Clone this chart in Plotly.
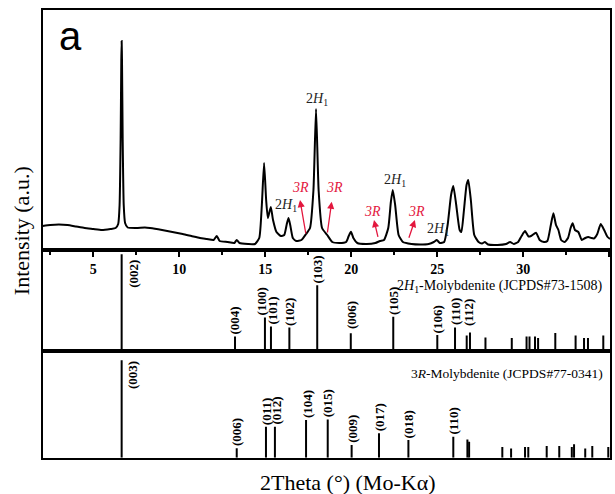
import plotly.graph_objects as go

# ---------------- data ----------------
# measured XRD pattern (2theta, intensity in a.u.)
two_theta = [2.06, 2.5, 3.0, 3.5, 4.0, 4.5, 5.0, 5.5, 6.0, 6.3, 6.45, 6.53, 6.59, 6.63, 6.65,
             6.67, 6.71, 6.77, 6.85, 7.0, 7.5, 8.0, 8.3, 9.0, 9.6, 10.2, 10.7, 11.2, 11.6, 12.0,
             12.18, 12.35, 12.8, 13.2, 13.34, 13.5, 14.0, 14.4, 14.65, 14.8, 14.93, 15.05, 15.15,
             15.32, 15.45, 15.65, 15.9, 16.1, 16.25, 16.35, 16.45, 16.6, 16.8, 17.1, 17.37, 17.6,
             17.8, 17.95, 18.1, 18.3, 18.6, 18.9, 19.3, 19.7, 19.85, 19.98, 20.12, 20.35, 20.9,
             21.4, 21.67, 21.9, 22.15, 22.3, 22.41, 22.55, 22.75, 23.0, 23.5, 24.0, 24.5, 24.8,
             24.97, 25.15, 25.4, 25.6, 25.8, 25.93, 26.1, 26.3, 26.4, 26.55, 26.7, 26.8, 26.95,
             27.15, 27.4, 27.6, 27.77, 27.95, 28.5, 29.0, 29.23, 29.45, 29.7, 29.9, 30.1, 30.3,
             30.45, 30.74, 30.95, 31.2, 31.4, 31.6, 31.75, 31.9, 32.04, 32.2, 32.4, 32.6, 32.75,
             32.87, 33.0, 33.2, 33.4, 33.6, 33.78, 33.95, 34.1, 34.3, 34.5, 34.7, 34.9, 35.04]
intensity = [24, 25, 25.5, 25, 23.5, 22, 21, 20, 21, 22, 26, 45, 110, 190, 209,
             190, 110, 45, 27, 22.5, 22, 22.5, 22, 20, 18, 16, 14, 12, 11, 10,
             14, 9, 8, 7, 10, 7, 6, 6, 12, 45, 87, 50, 32,
             43, 30, 18, 14, 15, 26, 32, 25, 12, 9, 10, 16, 22,
             60, 141, 60, 22, 15, 8, 7, 8, 14, 18.3, 12, 7, 6,
             7, 9, 10, 22, 48, 60, 45, 15, 8, 6, 5.5, 6, 8,
             10, 7, 8, 25, 55, 64, 45, 20, 18, 40, 65, 70, 50,
             15, 8, 6.5, 8, 5.5, 5, 6, 8, 6, 8, 14, 19, 13.5,
             14, 17.3, 10, 8, 9, 25, 36.7, 25, 20, 10, 8, 12, 22,
             26.7, 20, 18, 10, 12, 13, 12, 11.5, 16, 26, 20, 13, 11]

# 2H1-Molybdenite reference (JCPDS#73-1508), relative intensity
h2_pos = [6.65, 13.24, 14.98, 15.33, 16.40, 18.02, 19.97, 22.44, 25.00, 26.03, 26.71, 26.90,
          27.80, 29.33, 30.19, 30.36, 30.68, 30.86, 31.86, 33.04, 33.53, 33.76, 34.65]
h2_int = [0.957, 0.14, 0.33, 0.24, 0.23, 0.65, 0.173, 0.338, 0.155, 0.23, 0.15, 0.18,
          0.13, 0.125, 0.14, 0.14, 0.14, 0.125, 0.175, 0.15, 0.125, 0.125, 0.15]
h2_hkl = ["(002)", "(004)", "(100)", "(101)", "(102)", "(103)", "(006)", "(105)", "(106)",
          "(110)", "", "(112)", "", "", "", "", "", "", "", "", "", "", ""]

# 3R-Molybdenite reference (JCPDS#77-0341), relative intensity
r3_pos = [6.65, 13.34, 15.04, 15.56, 17.37, 18.63, 20.02, 21.61, 23.32, 25.93, 26.75, 26.85,
          28.78, 29.29, 30.10, 30.29, 31.36, 32.09, 32.82, 32.95, 33.60, 34.01, 34.94]
r3_int = [0.91, 0.088, 0.29, 0.29, 0.352, 0.357, 0.118, 0.228, 0.165, 0.196, 0.17, 0.15,
          0.10, 0.087, 0.10, 0.10, 0.11, 0.11, 0.10, 0.125, 0.087, 0.11, 0.10]
r3_hkl = ["(003)", "(006)", "(011)", "(012)", "(104)", "(015)", "(009)", "(017)", "(018)",
          "(110)", "", "", "", "", "", "", "", "", "", "", "", "", ""]

# peak annotations in the measured pattern
h2_mark_x = [17.99, 16.2, 22.54, 25.04]
h2_mark_y = [150, 44, 69, 20]
r3_text_x = [17.05, 19.05, 21.25, 23.8]
r3_text_y = [62, 62, 38.3, 38.3]
r3_tail_x = [17.37, 18.6, 21.57, 23.32]
r3_tail_y = [15, 16, 11.7, 10.7]
r3_head_x = [17.02, 18.86, 21.32, 23.7]
r3_head_y = [50, 48.3, 30, 30]

# ---------------- styling ----------------
W, H = 615, 494
SERIF = "Liberation Serif"
RED = "#e3173e"
XL, XR = 42.7 / W, 610 / W
def py(p):  # pixel row -> paper y
    return (H - p) / H

fig = go.Figure()

fig.add_trace(go.Scatter(x=two_theta, y=intensity, mode="lines",
                         line=dict(color="black", width=2, shape="spline", smoothing=0.5),
                         xaxis="x", yaxis="y", hoverinfo="skip"))

def sticks(pos, hts):
    xs, ys = [], []
    for p, h in zip(pos, hts):
        xs += [p, p, None]
        ys += [0, h, None]
    return xs, ys

sx, sy = sticks(h2_pos, h2_int)
fig.add_trace(go.Scatter(x=sx, y=sy, mode="lines", line=dict(color="black", width=2),
                         xaxis="x2", yaxis="y2", hoverinfo="skip"))
sx, sy = sticks(r3_pos, r3_int)
fig.add_trace(go.Scatter(x=sx, y=sy, mode="lines", line=dict(color="black", width=2),
                         xaxis="x3", yaxis="y3", hoverinfo="skip"))

ann = []
lab_font = dict(family=SERIF, size=13, color="black", weight="bold")
shifts = {("x2", "(100)"): (-3, 0), ("x2", "(101)"): (2, 0), ("x2", "(112)"): (-2, 5),
          ("x2", "(006)"): (0, 2),
          ("x3", "(012)"): (2, 0), ("x3", "(104)"): (1, 0)}
for axn, pos, hts, hkl in (("x2", h2_pos, h2_int, h2_hkl), ("x3", r3_pos, r3_int, r3_hkl)):
    yref = "y" + axn[1:]
    for p, h, t in zip(pos, hts, hkl):
        if not t:
            continue
        if h > 0.8:
            ann.append(dict(x=p, y=0.91, xref=axn, yref=yref, text=t, textangle=-90,
                            showarrow=False, xanchor="center", yanchor="top", xshift=11,
                            font=lab_font, borderpad=0))
        else:
            dx, dy = shifts.get((axn, t), (0, 0))
            ann.append(dict(x=p, y=h, xref=axn, yref=yref, text=t, textangle=-90,
                            showarrow=False, xanchor="center", yanchor="bottom",
                            xshift=dx, yshift=1 + dy, font=lab_font, borderpad=0))

ann.append(dict(x=605 / W, y=py(286), xref="paper", yref="paper", xanchor="right",
                yanchor="middle", showarrow=False,
                text="2<i>H</i><sub>1</sub>-Molybdenite (JCPDS#73-1508)",
                font=dict(family=SERIF, size=14, color="black")))
ann.append(dict(x=605 / W, y=py(373), xref="paper", yref="paper", xanchor="right",
                yanchor="middle", showarrow=False,
                text="3<i>R</i>-Molybdenite (JCPDS#77-0341)",
                font=dict(family=SERIF, size=13.5, color="black")))

for x, y in zip(h2_mark_x, h2_mark_y):
    ann.append(dict(x=x, y=y, xref="x", yref="y", showarrow=False,
                    xanchor="center", yanchor="middle",
                    text="2<i>H</i><sub>1</sub>",
                    font=dict(family=SERIF, size=14, color="#222222")))
for i in range(len(r3_text_x)):
    ann.append(dict(x=r3_head_x[i], y=r3_head_y[i], ax=r3_tail_x[i], ay=r3_tail_y[i],
                    xref="x", yref="y", axref="x", ayref="y", text="", showarrow=True,
                    arrowhead=2, arrowsize=1.1, arrowwidth=1.3, arrowcolor=RED, standoff=0))
    ann.append(dict(x=r3_text_x[i], y=r3_text_y[i], xref="x", yref="y", showarrow=False,
                    xanchor="center", yanchor="middle",
                    text="<i>3R</i>", font=dict(family=SERIF, size=14, color=RED)))

ann.append(dict(x=70 / W, y=py(36), xref="paper", yref="paper", showarrow=False,
                xanchor="center", yanchor="middle",
                text="a", font=dict(family="Liberation Sans", size=40, color="black")))
ann.append(dict(x=347 / W, y=py(482), xref="paper", yref="paper", showarrow=False,
                xanchor="center", yanchor="middle",
                text="2Theta (°) (Mo-Kα)", font=dict(family=SERIF, size=22, color="black")))
ann.append(dict(x=21.7 / W, y=py(230.5), xref="paper", yref="paper", showarrow=False,
                xanchor="center", yanchor="middle",
                textangle=-90, text="Intensity (a.u.)",
                font=dict(family=SERIF, size=22, color="black")))

frame = dict(showline=True, linecolor="black", linewidth=2, mirror=True,
             showgrid=False, zeroline=False)
xr = [2.06, 35.04]

fig.update_layout(
    width=W, height=H, margin=dict(l=0, r=0, t=0, b=0),
    paper_bgcolor="white", plot_bgcolor="white", showlegend=False,
    annotations=ann,
    xaxis=dict(domain=[XL, XR], range=xr, anchor="y", ticks="outside", ticklen=5,
               tickwidth=1.5, tickcolor="black", tick0=0, dtick=5,
               tickfont=dict(family=SERIF, size=14, color="black", weight="bold"),
               minor=dict(dtick=2.5, ticklen=3, tickwidth=1.5, ticks="outside",
                          tickcolor="black"),
               **frame),
    yaxis=dict(domain=[py(250), py(10)], range=[0, 240], anchor="x",
               showticklabels=False, ticks="", **frame),
    xaxis2=dict(domain=[XL, XR], range=xr, anchor="y2", matches="x",
                showticklabels=False, ticks="", **frame),
    yaxis2=dict(domain=[py(350.7), py(250)], range=[0, 1], anchor="x2",
                showticklabels=False, ticks="", **frame),
    xaxis3=dict(domain=[XL, XR], range=xr, anchor="y3", matches="x",
                showticklabels=False, ticks="", **frame),
    yaxis3=dict(domain=[py(457.7), py(350.7)], range=[0, 1], anchor="x3",
                showticklabels=False, ticks="", **frame),
)

fig.write_html("out.html")
